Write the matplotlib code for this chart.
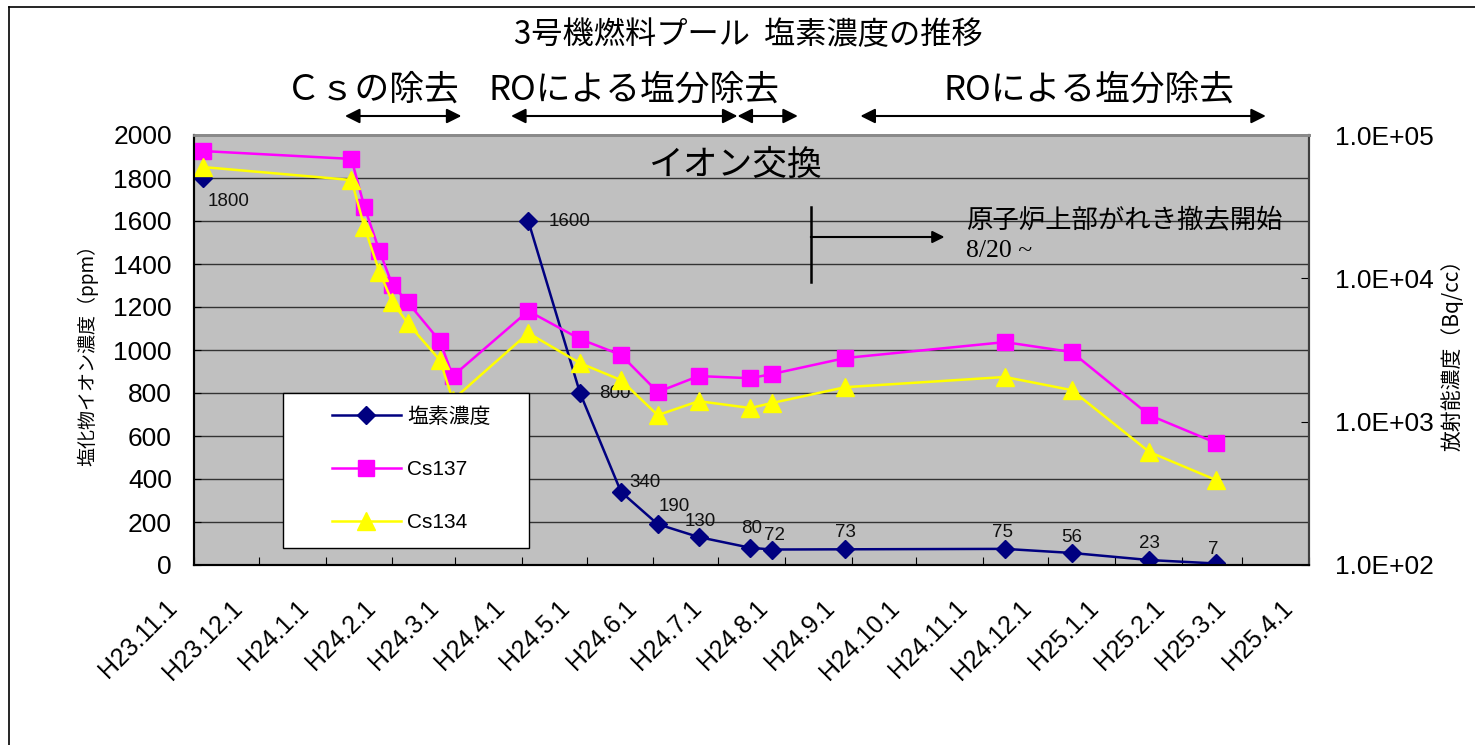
import numpy as np
import pandas as pd
import matplotlib
matplotlib.use("Agg")
import matplotlib.pyplot as plt
import matplotlib.dates as mdates
from matplotlib.transforms import blended_transform_factory, ScaledTranslation
from matplotlib.lines import Line2D
from matplotlib.patches import Rectangle

plt.rcParams['font.family'] = ['Liberation Sans', 'Noto Sans CJK JP', 'DejaVu Sans']

# --- data ---
cs_dates = ['2011-11-05', '2012-01-13', '2012-01-19', '2012-01-26', '2012-02-01',
            '2012-02-08', '2012-02-23', '2012-02-29', '2012-04-04', '2012-04-28',
            '2012-05-17', '2012-06-03', '2012-06-22', '2012-07-16', '2012-07-26',
            '2012-08-29', '2012-11-11', '2012-12-12', '2013-01-17', '2013-02-17']
cs137 = [77300, 68100, 31500, 15500, 8980, 6840, 3650, 2080, 5920, 3770,
         2920, 1610, 2080, 2010, 2150, 2780, 3590, 3060, 1110, 710]
cs134 = [59800, 48500, 22800, 11070, 6840, 4880, 2690, 1420, 4150, 2560,
         1950, 1110, 1390, 1245, 1350, 1740, 2050, 1660, 614, 391]

cl_dates = ['2011-11-05', '2012-04-04', '2012-04-28', '2012-05-17', '2012-06-03',
            '2012-06-22', '2012-07-16', '2012-07-26', '2012-08-29', '2012-11-11',
            '2012-12-12', '2013-01-17', '2013-02-17']
chloride = [1800, 1600, 800, 340, 190, 130, 80, 72, 73, 75, 56, 23, 7]

tick_labels = ['H23.11.1', 'H23.12.1', 'H24.1.1', 'H24.2.1', 'H24.3.1', 'H24.4.1',
               'H24.5.1', 'H24.6.1', 'H24.7.1', 'H24.8.1', 'H24.9.1', 'H24.10.1',
               'H24.11.1', 'H24.12.1', 'H25.1.1', 'H25.2.1', 'H25.3.1', 'H25.4.1']

# process periods shown as arrows above the chart
periods = [('2012-01-10', '2012-03-04'), ('2012-03-27', '2012-07-10'),
           ('2012-07-10', '2012-08-07'), ('2012-09-05', '2013-03-12')]
period_labels = [('2012-01-23', 'Ｃｓの除去'), ('2012-05-23', 'ROによる塩分除去'),
                 ('2012-12-20', 'ROによる塩分除去')]


def dn(s):
    return mdates.date2num(pd.Timestamp(s))


cs_dates = pd.to_datetime(cs_dates)
cl_dates = pd.to_datetime(cl_dates)
ticks = pd.date_range('2011-11-01', '2013-04-01', freq='MS')

fig = plt.figure(figsize=(14.75, 7.45), dpi=100)
W, H = 1475, 745
ax = fig.add_axes([194 / W, 1 - 565 / H, 1115 / W, 430 / H])
ax.set_facecolor('#C0C0C0')
ax2 = ax.twinx()

# chloride on the left axis (first sample not joined to the rest)
ax.plot(cl_dates[1:], chloride[1:], color='#000080', lw=1.8, marker='D', ms=9, zorder=3)
ax.plot(cl_dates[:1], chloride[:1], color='#000080', lw=0, marker='D', ms=9, zorder=3)
cl_line = Line2D([], [], color='#000080', lw=1.8, marker='D', ms=9)

# label offsets in points (dx, dy)
offsets = [(19, -17), (30, 0), (25, 0), (17, 7), (12, 13), (1, 11), (1, 14), (2, 10),
           (0, 12), (-2, 12), (0, 11), (0, 12), (-2, 10)]
for d, v, (dx, dy) in zip(cl_dates, chloride, offsets):
    ax.annotate(str(v), (d, v), xytext=(dx, dy), textcoords='offset points',
                ha='center', va='center', fontsize=13.5, color='#111111')

ax.set_ylim(0, 2000)
ax.set_yticks(np.arange(0, 2001, 200))
ax.yaxis.grid(True, color='#333333', lw=1.0)
ax.set_axisbelow(True)
ax.set_xlim(pd.Timestamp('2011-11-01'), pd.Timestamp('2013-04-01'))
ax.set_xticks(ticks)
ax.set_xticklabels(tick_labels, rotation=45, ha='right', va='top', rotation_mode='anchor')
ax.tick_params(axis='x', direction='in', length=6, pad=22, labelsize=18)
ax.tick_params(axis='y', direction='in', length=5, pad=16, labelsize=19)
shift = ScaledTranslation(-0.29, 0, fig.dpi_scale_trans)
for lbl in ax.get_xticklabels():
    lbl.set_transform(lbl.get_transform() + shift)

# cesium on the right log axis
l137, = ax2.plot(cs_dates, cs137, color='#FF00FF', lw=1.8, marker='s', ms=11, zorder=2)
l134, = ax2.plot(cs_dates, cs134, color='#FFFF00', lw=1.8, marker='^', ms=13, zorder=2)
ax2.set_yscale('log')
ax2.set_ylim(1e2, 1e5)
ax2.set_yticks([1e2, 1e3, 1e4, 1e5])
ax2.set_yticklabels(['1.0E+02', '1.0E+03', '1.0E+04', '1.0E+05'])
ax2.minorticks_off()
ax2.tick_params(axis='y', direction='in', length=6, pad=19, labelsize=19)

for a in (ax, ax2):
    a.spines['left'].set_color('black')
    a.spines['bottom'].set_color('black')
    a.spines['left'].set_linewidth(1.5)
    a.spines['bottom'].set_linewidth(1.5)
    a.spines['top'].set_color('#8a8a8a')
    a.spines['top'].set_linewidth(2)
    a.spines['right'].set_color('#404040')
    a.spines['right'].set_linewidth(1.5)

# legend box
ax2.add_patch(Rectangle(((283 - 194) / 1115, (565 - 548) / 430), 246 / 1115, 155 / 430,
                        transform=ax2.transAxes, facecolor='white', edgecolor='black',
                        lw=1, zorder=4))
ax2.legend([cl_line, l137, l134], ['塩素濃度', 'Cs137', 'Cs134'], loc='upper left',
           bbox_to_anchor=((332 - 194) / 1115, (565 - 407) / 430), frameon=False,
           borderpad=0, borderaxespad=0, labelspacing=1.62, handlelength=3.3,
           handletextpad=0.3, fontsize=15)

# axis titles
fig.text(88 / W, 1 - 350 / H, '塩化物イオン濃度（ppm）', rotation=90, ha='center', va='center',
         fontsize=13.7, family=['Noto Sans CJK JP'])
fig.text(1452 / W, 1 - 350 / H, '放射能濃度（Bq/cc）', rotation=90, ha='center', va='center',
         fontsize=15, family=['Noto Sans CJK JP'])

# title
fig.text(748 / W, 1 - 35 / H, '3号機燃料プール  塩素濃度の推移', ha='center', va='center',
         fontsize=22.5, family=['Noto Sans CJK JP'])

# process arrows above the plot
tr = blended_transform_factory(ax.transData, fig.transFigure)
for s, e in periods:
    ax.annotate('', xy=(dn(e), 1 - 116 / H), xytext=(dn(s), 1 - 116 / H),
                xycoords=tr, textcoords=tr, annotation_clip=False,
                arrowprops=dict(arrowstyle='<|-|>', color='black', lw=1.5,
                                mutation_scale=22, shrinkA=0, shrinkB=0))
for d, t in period_labels:
    ax.text(dn(d), 1 - 90 / H, t, transform=tr, ha='center', va='center',
            fontsize=25, family=['Noto Sans CJK JP'])

# in-plot notes
tra = blended_transform_factory(ax.transData, ax.transAxes)
ax.text(dn('2012-07-09'), (565 - 165) / 430, 'イオン交換', transform=tra,
        ha='center', va='center', fontsize=25, family=['Noto Sans CJK JP'])
ax.plot([dn('2012-08-13')] * 2, [(565 - 207) / 430, (565 - 282) / 430],
        transform=tra, color='black', lw=1.8)
ax.annotate('', xy=(dn('2012-10-14'), (565 - 237) / 430),
            xytext=(dn('2012-08-13'), (565 - 237) / 430),
            xycoords=tra, textcoords=tra,
            arrowprops=dict(arrowstyle='-|>', color='black', lw=1.5,
                            mutation_scale=18, shrinkA=0, shrinkB=0))
ax.text(dn('2012-10-24'), (565 - 220) / 430, '原子炉上部がれき撤去開始', transform=tra,
        ha='left', va='center', fontsize=19, family=['Noto Sans CJK JP'])
ax.text(dn('2012-10-24'), (565 - 251) / 430, '8/20 ~', transform=tra,
        ha='left', va='center', fontsize=18.5, family=['Liberation Serif'])

# outer frame of the slide
fig.add_artist(Line2D([9 / W, 9 / W], [0, 1 - 7 / H], color='black', lw=1.2))
fig.add_artist(Line2D([9 / W, 1], [1 - 7 / H, 1 - 7 / H], color='black', lw=1.2))

fig.savefig('out.png', dpi=100)
